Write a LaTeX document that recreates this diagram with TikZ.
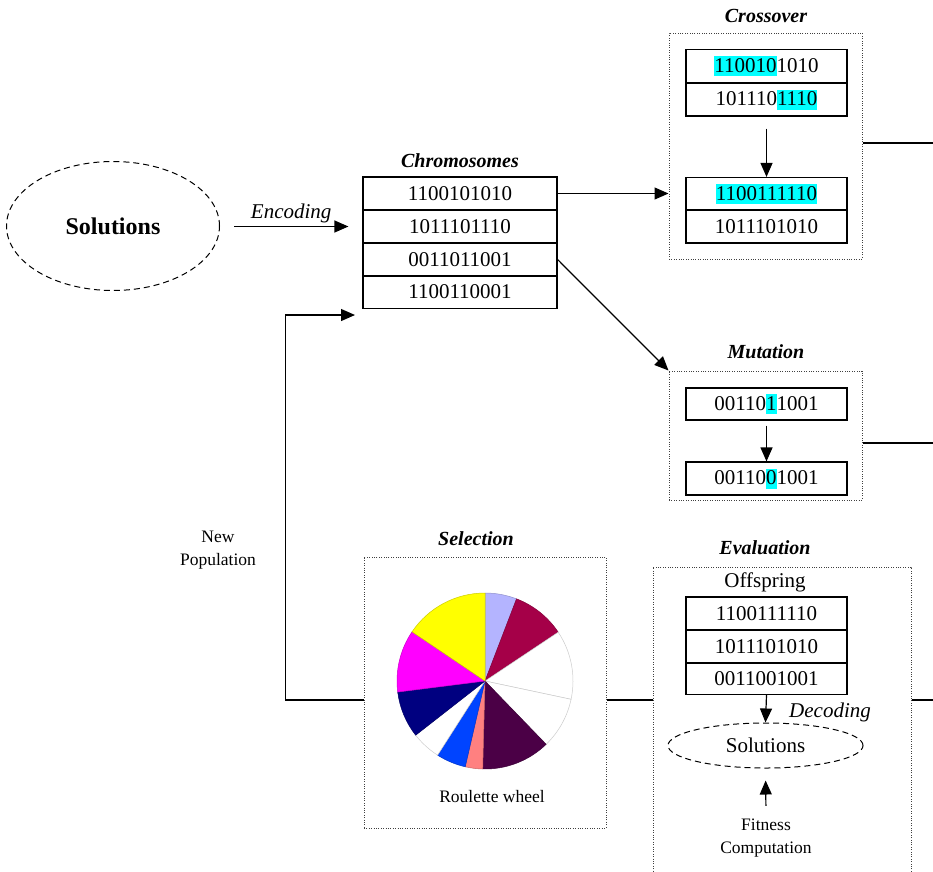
\documentclass[tikz,border=0pt]{standalone}
\usepackage{fontspec}
\setmainfont{Liberation Serif}
\usepackage{xcolor}
\usepackage{tikz}
\usetikzlibrary{shapes.geometric, arrows.meta}

\definecolor{hilite}{RGB}{0,255,255}
\definecolor{wlav}{RGB}{180,180,255}
\definecolor{wcrim}{RGB}{165,0,72}
\definecolor{wplum}{RGB}{75,0,70}
\definecolor{wsalm}{RGB}{255,128,128}
\definecolor{wblue}{RGB}{0,68,255}
\definecolor{wnavy}{RGB}{0,0,128}
\definecolor{wmag}{RGB}{255,0,255}
\definecolor{wyel}{RGB}{255,255,0}

% cyan marker behind changed genes
\newcommand{\hl}[1]{{\setlength{\fboxsep}{0pt}\colorbox{hilite}{\rule[-4pt]{0pt}{20pt}#1}}}

\begin{document}
\begin{tikzpicture}[x=1pt, y=-1pt, line width=1.2pt,
    cell/.style={draw, minimum width=161pt, minimum height=33pt, inner sep=0pt, font=\fontsize{21}{24}\selectfont},
    frame/.style={draw=black!75, line width=1pt, dash pattern=on 1pt off 1.4pt, inner sep=0pt},
    title/.style={font=\fontsize{20}{24}\selectfont\bfseries\itshape},
    txt/.style={font=\fontsize{21}{24}\selectfont},
    lbl/.style={font=\fontsize{21}{24}\selectfont\itshape},
    small/.style={font=\fontsize{17.5}{23}\selectfont, align=center},
    oval/.style={draw, ellipse, line width=1pt, dash pattern=on 6pt off 4pt, inner sep=0pt},
    >={Triangle[length=14pt, width=12pt]}]
    \useasboundingbox (0,0) rectangle (933,871);

    % Initial solutions
    \node[oval, minimum width=213pt, minimum height=129pt, font=\fontsize{24}{28}\selectfont\bfseries] (sol) at (113,226) {Solutions};

    % Chromosomes
    \node[title] (tchr) at (460,161) {Chromosomes};
    \node[cell, minimum width=194pt] (c1) at (460,193.5) {1100101010};
    \node[cell, minimum width=194pt] (c2) at (460,226.5) {1011101110};
    \node[cell, minimum width=194pt] (c3) at (460,259.5) {0011011001};
    \node[cell, minimum width=194pt] (c4) at (460,292) {1100110001};
    \coordinate (back) at (355,315);

    % Crossover
    \node[frame, minimum width=193pt, minimum height=226pt] (cross) at (765.5,146) {};
    \node[title] (tcross) at (766,16) {Crossover};
    \node[cell] (x1) at (766.5,66) {\hl{110010}1010};
    \node[cell] (x2) at (766.5,99.5) {101110\hl{1110}};
    \node[cell] (y1) at (766.5,194) {\hl{1100111110}};
    \node[cell] (y2) at (766.5,226.5) {1011101010};

    % Mutation
    \node[frame, minimum width=193pt, minimum height=129pt] (mut) at (765.5,435.5) {};
    \node[title] (tmut) at (766,352) {Mutation};
    \node[cell, minimum height=32pt] (m1) at (766.5,404) {00110\hl{1}1001};
    \node[cell] (m2) at (766.5,478.5) {00110\hl{0}1001};

    % Selection
    \node[frame, minimum width=242pt, minimum height=271pt] (sel) at (485,692.5) {};
    \node[title] (tsel) at (476,539) {Selection};
    \begin{scope}[shift={(485,681)}, y=1pt, line width=0.5pt]
        \foreach \a/\b/\c in {69/90/wlav, 33.7/69/wcrim, -12/33.7/white, -46/-12/white,
                -91.5/-46/wplum, -103/-91.5/wsalm, -122.6/-103/wblue, -142/-122.6/white,
                -172.8/-142/wnavy, -214/-172.8/wmag, -270/-214/wyel}
            \filldraw[fill=\c, draw=\c!80!black] (0,0) -- (\a:88) arc[start angle=\a, end angle=\b, radius=88] -- cycle;
    \end{scope}
    \node[small] (wheel) at (492,796) {Roulette wheel};

    % Evaluation
    \node[frame, minimum width=258pt, minimum height=318pt] (eval) at (782,726) {};
    \node[title] (teval) at (765,548) {Evaluation};
    \node[txt] (offs) at (765,582) {Offspring};
    \node[cell] (o1) at (766.5,613.5) {1100111110};
    \node[cell] (o2) at (766.5,646.5) {1011101010};
    \node[cell, minimum height=32pt] (o3) at (766.5,678.5) {0011001001};
    \node[oval, minimum width=195pt, minimum height=45pt, txt] (es) at (765.5,745.5) {Solutions};
    \node[lbl] (dec) at (830,712) {Decoding};
    \node[small] (fit) at (766,838) {Fitness\\Computation};

    \node[small] (newpop) at (218,550) {New\\Population};

    % Connections
    \coordinate (out1) at (933,143);
    \coordinate (out2) at (933,443);
    \coordinate (out3) at (933,700);
    \draw[->, shorten <=14pt, shorten >=14pt] (sol.east |- c2) -- (c2.west) node[midway, above, lbl] (enc) {Encoding};
    \draw[->] (c1.east) -- (c1.east -| cross.west);
    \draw[->] (c3.east) -- (mut.north west);
    \draw[->, shorten <=12pt] (x2.south) -- (y1.north);
    \draw[->, shorten <=5pt] (m1.south) -- (m2.north);
    \draw (cross.east |- out1) -- (out1);
    \draw (mut.east |- out2) -- (out2);
    \draw (sel.east |- out3) -- (eval.west |- out3);
    \draw (eval.east |- out3) -- (out3);
    \draw[->] (sel.west |- out3) -- ++(-78,0) |- (back);
    \draw[->] (o3.south) -- (es.north);
    \draw[->, shorten <=9pt, shorten >=12pt] (fit.north) -- (es.south);
\end{tikzpicture}
\end{document}
